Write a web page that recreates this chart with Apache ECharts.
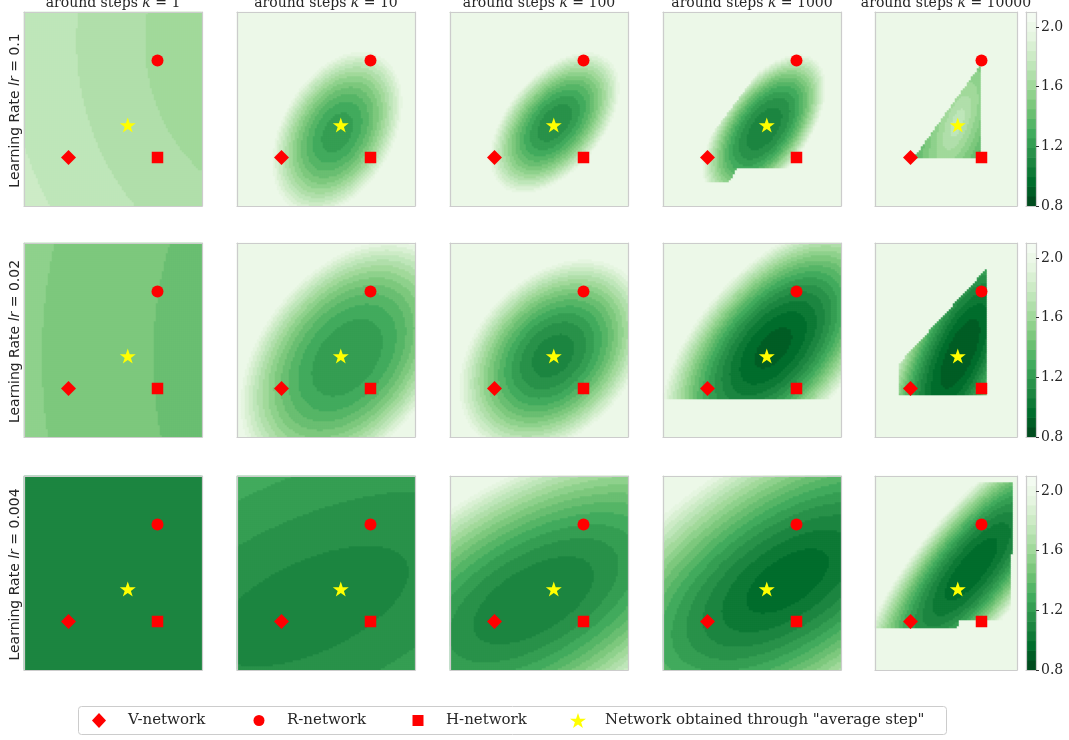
<!DOCTYPE html>
<html><head><meta charset="utf-8">
<script src="https://cdn.jsdelivr.net/npm/echarts@6/dist/echarts.min.js"></script>
<style>html,body{margin:0;padding:0;background:#fff}#c{width:1069px;height:740px}</style>
</head><body><div id="c"></div>
<script>
// ---------------- data ----------------
const stepLabels = ['1', '10', '100', '1000', '10000'];          // column titles: around steps k = ...
const rateLabels = ['0.1', '0.02', '0.004'];                      // row labels: Learning Rate lr = ...
const cbarTicks = [0.8, 1.2, 1.6, 2.0];                           // colour-bar tick labels
const levelMin = 0.8, levelMax = 2.1, levelCount = 20;            // contour levels
const plateauLoss = 2.0;                                          // value of the flat light background

// marker positions (panel coordinates, 0..1)
const vNetwork = [0.25, 0.25];
const rNetwork = [0.75, 0.75];
const hNetwork = [0.75, 0.25];
const avgNetwork = [0.583, 0.417];

// estimated loss surface of every panel (rows: lr, columns: k)
const centerX = [
  [1.55, 0.565, 0.59, 0.57, 0.58],
  [2.644, 0.62, 0.58, 0.62, 0.60],
  [0.50, 0.42, 0.47, 0.70, 0.68]
];
const centerY = [
  [0.85, 0.38, 0.43, 0.40, 0.43],
  [0.41, 0.41, 0.42, 0.46, 0.43],
  [0.50, 0.33, 0.36, 0.46, 0.52]
];
const tiltDeg = [
  [0, 55, 45, 50, 60],
  [0, 45, 40, 45, 55],
  [0, 22, 27, 30, 40]
];
const axisA = [
  [1, 0.47, 0.45, 0.46, 0.22],
  [1, 0.72, 0.60, 0.80, 0.60],
  [1, 0.58, 0.37, 0.26, 1.00]
];
const axisB = [
  [1, 0.31, 0.26, 0.24, 0.10],
  [1, 0.47, 0.42, 0.42, 0.25],
  [1, 0.24, 0.17, 0.12, 0.33]
];
const baseLoss = [
  [1.498, 1.21, 1.13, 1.08, 1.78],
  [1.2506, 1.20, 1.08, 0.90, 0.87],
  [1.09, 1.062, 1.06, 0.94, 0.94]
];
const lossSlope = [
  [0.169, 0.79, 0.87, 0.92, -0.19],
  [0.104, 0.80, 0.92, 1.10, 0.49],
  [0, 0.063, 0.065, 0.055, 1.0]
];
const lossPower = [
  [1, 2, 2, 2.4, 1],
  [1, 2.4, 2, 2, 2],
  [1, 1.1, 2, 1.7, 2]
];
// regions outside which the surface is flat (light background)
const clipRegions = [
  [null, null, null,
    [[0.2, 0.28], [0.2, 0.12], [0.37, 0.12], [0.42, 0.2], [1.0, 0.2], [1.0, 1.0], [0.79, 1.0]],
    [[0.27, 0.245], [0.745, 0.245], [0.745, 0.73]]],
  [null, null, null,
    [[0.0, 0.2], [1.0, 0.2], [1.0, 1.0], [0.0, 1.0]],
    [[0.17, 0.22], [0.795, 0.22], [0.795, 0.875], [0.17, 0.38]]],
  [null, null, null, null,
    [[0.0, 0.215], [0.58, 0.215], [0.6, 0.26], [0.96, 0.26], [0.97, 0.97], [0.0, 0.97]]]
];
const legendNames = ['V-network', 'R-network', 'H-network', 'Network obtained through "average step"'];

// ---------------- layout / style ----------------
const colLeft = [24, 237, 450, 663, 875];
const colWidth = [178, 178, 178, 178, 142];
const rowTop = [12, 243, 476];
const rowHeight = 194;
const cellPx = 2;
const cbarLeft = 1026, cbarWidth = 10;
const frameColor = '#cccccc';
const textColor = '#262626';
const starPath = 'path://M50,0L61.8,35.1L98.9,35.1L69.1,56.8L80.2,91.9L50,70.2L19.8,91.9L30.9,56.8L1.1,35.1L38.2,35.1Z';

const greensAnchors = ['#f7fcf5', '#e5f5e0', '#c7e9c0', '#a1d99b', '#74c476', '#41ab5d', '#238b45', '#006d2c', '#00441b'];
function hex2rgb(h) { return [1, 3, 5].map(i => parseInt(h.substr(i, 2), 16)); }
function greens(t) {
  t = Math.max(0, Math.min(1, t));
  const p = t * 8, k = Math.min(7, Math.floor(p)), f = p - k;
  const a = hex2rgb(greensAnchors[k]), b = hex2rgb(greensAnchors[k + 1]);
  const c = a.map((v, i) => Math.round(v + (b[i] - v) * f));
  return 'rgb(' + c.join(',') + ')';
}
const levels = Array.from({ length: levelCount + 1 }, (_, i) => levelMin + (levelMax - levelMin) * i / levelCount);
const bandColors = Array.from({ length: levelCount }, (_, i) => greens(1 - (i + 0.5) / levelCount));

function insidePoly(poly, x, y) {
  let ins = false;
  for (let i = 0, j = poly.length - 1; i < poly.length; j = i++) {
    const xi = poly[i][0], yi = poly[i][1], xj = poly[j][0], yj = poly[j][1];
    if (((yi > y) !== (yj > y)) && (x < (xj - xi) * (y - yi) / (yj - yi) + xi)) ins = !ins;
  }
  return ins;
}
function surface(r, c, x, y) {
  const dx = x - centerX[r][c], dy = y - centerY[r][c];
  const t = tiltDeg[r][c] * Math.PI / 180;
  const u = dx * Math.cos(t) + dy * Math.sin(t);
  const v = -dx * Math.sin(t) + dy * Math.cos(t);
  const rho = Math.sqrt((u / axisA[r][c]) ** 2 + (v / axisB[r][c]) ** 2);
  let f = baseLoss[r][c] + lossSlope[r][c] * Math.pow(rho, lossPower[r][c]);
  const poly = clipRegions[r][c];
  if (poly && !insidePoly(poly, x, y)) f = plateauLoss;
  return Math.min(Math.max(f, levelMin + 0.01), plateauLoss);
}

// ---------------- option ----------------
const grid = [], xAxis = [], yAxis = [], series = [];
const heatIdx = [];
function frameAxis(extra) {
  return Object.assign({
    show: true, z: 10,
    axisLine: { show: true, onZero: false, lineStyle: { color: frameColor, width: 1.2 } },
    axisTick: { show: false }, axisLabel: { show: false }, splitLine: { show: false }
  }, extra);
}
for (let r = 0; r < 3; r++) {
  for (let c = 0; c < 5; c++) {
    const NX = Math.round(colWidth[c] / cellPx), NY = Math.round(rowHeight / cellPx);
    const g = grid.length;
    grid.push({ left: colLeft[c], top: rowTop[r], width: colWidth[c], height: rowHeight, outerBoundsMode: 'none' });
    const xc = xAxis.length;
    xAxis.push(frameAxis({ type: 'category', data: Array.from({ length: NX }, (_, i) => i), gridIndex: g, position: 'top', boundaryGap: true }));
    xAxis.push(frameAxis({ type: 'value', min: 0, max: 1, gridIndex: g, position: 'bottom' }));
    const yc = yAxis.length;
    yAxis.push(frameAxis({ type: 'category', data: Array.from({ length: NY }, (_, i) => i), gridIndex: g, position: 'right', boundaryGap: true }));
    yAxis.push(frameAxis({ type: 'value', min: 0, max: 1, gridIndex: g, position: 'left' }));
    const data = [];
    for (let j = 0; j < NY; j++) for (let i = 0; i < NX; i++) {
      data.push([i, j, +surface(r, c, (i + 0.5) / NX, (j + 0.5) / NY).toFixed(4)]);
    }
    heatIdx.push(series.length);
    series.push({ type: 'heatmap', xAxisIndex: xc, yAxisIndex: yc, data, progressive: 0, silent: true,
      itemStyle: { borderWidth: 0 }, emphasis: { disabled: true } });
    const marks = [
      [legendNames[0], vNetwork, 'diamond', 15, '#ff0000'],
      [legendNames[1], rNetwork, 'circle', 12, '#ff0000'],
      [legendNames[2], hNetwork, 'rect', 11.5, '#ff0000'],
      [legendNames[3], avgNetwork, starPath, 16, '#ffff00']
    ];
    marks.forEach(m => series.push({ type: 'scatter', name: m[0], xAxisIndex: xc + 1, yAxisIndex: yc + 1,
      data: [m[1]], symbol: m[2], symbolSize: m[3], symbolKeepAspect: true, itemStyle: { color: m[4], opacity: 1 },
      z: 5, silent: true }));
  }
}
// colour bars
const cbarData = levels.slice(0, levelCount).map((lo, i) => [0, lo, levels[i + 1], i]);
for (let r = 0; r < 3; r++) {
  const g = grid.length;
  grid.push({ left: cbarLeft, top: rowTop[r], width: cbarWidth, height: rowHeight, outerBoundsMode: 'none' });
  const xc = xAxis.length;
  xAxis.push(frameAxis({ type: 'value', min: 0, max: 1, gridIndex: g, position: 'bottom' }));
  xAxis.push(frameAxis({ type: 'value', min: 0, max: 1, gridIndex: g, position: 'top' }));
  const yc = yAxis.length;
  yAxis.push(frameAxis({ type: 'value', min: levelMin, max: levelMax, interval: 0.4, gridIndex: g, position: 'right',
    axisTick: { show: true, length: 3, customValues: cbarTicks, lineStyle: { color: '#333' } },
    axisLabel: { show: true, customValues: cbarTicks, margin: 5,
      formatter: v => v.toFixed(1),
      fontFamily: 'DejaVu Serif', fontSize: 14, color: textColor } }));
  yAxis.push(frameAxis({ type: 'value', min: levelMin, max: levelMax, gridIndex: g, position: 'left' }));
  series.push({ type: 'custom', xAxisIndex: xc, yAxisIndex: yc, data: cbarData, silent: true,
    encode: { x: 0, y: [1, 2] },
    renderItem: (params, api) => {
      const a = api.coord([0, api.value(2)]), b = api.coord([1, api.value(1)]);
      return { type: 'rect', shape: { x: a[0], y: a[1] - 0.3, width: b[0] - a[0], height: b[1] - a[1] + 0.6 },
        style: { fill: bandColors[api.value(3)] } };
    } });
}

const graphic = [];
for (let c = 0; c < 5; c++) {
  graphic.push({ type: 'text', x: colLeft[c] + colWidth[c] / 2, y: 3, silent: true,
    style: { text: '{n|around steps }{i|k}{n| = ' + stepLabels[c] + '}', align: 'center', verticalAlign: 'middle',
      rich: { n: { fontFamily: 'DejaVu Serif', fontSize: 14, fill: textColor },
              i: { fontFamily: 'DejaVu Serif', fontStyle: 'italic', fontSize: 14, fill: textColor } } } });
}
for (let r = 0; r < 3; r++) {
  graphic.push({ type: 'text', x: 15, y: rowTop[r] + rowHeight / 2 + 1.5, rotation: Math.PI / 2, silent: true,
    style: { text: '{n|Learning Rate }{i|lr}{n| = ' + rateLabels[r] + '}', align: 'center', verticalAlign: 'middle',
      rich: { n: { fontFamily: 'DejaVu Sans', fontSize: 14, fill: textColor },
              i: { fontFamily: 'DejaVu Sans', fontStyle: 'italic', fontSize: 14, fill: textColor } } } });
}
graphic.push({ type: 'rect', z: 1, silent: true, shape: { x: 78.5, y: 706.5, width: 868, height: 28, r: 3 },
  style: { fill: '#ffffff', stroke: frameColor, lineWidth: 1 } });

const legendSpec = [
  { left: 92, w: 14, h: 15, gap: 17 },
  { left: 253.5, w: 11, h: 11, gap: 17.5 },
  { left: 412.5, w: 11, h: 11, gap: 17.5 },
  { left: 570, w: 16, h: 16, gap: 14 }
];
const legend = legendSpec.map((s, i) => ({
  data: [legendNames[i]], left: s.left, top: 713, padding: 0, itemWidth: s.w, itemHeight: s.h,
  selectedMode: false, z: 6,
  formatter: n => '{g|}{t|' + n + '}',
  textStyle: { rich: { g: { width: s.gap }, t: { fontFamily: 'DejaVu Serif', fontSize: 15, color: textColor, lineHeight: 18 } } }
}));

const chart = echarts.init(document.getElementById('c'), null, { renderer: 'canvas' });
chart.setOption({
  animation: false,
  backgroundColor: '#ffffff',
  grid, xAxis, yAxis, series, graphic, legend,
  visualMap: { type: 'piecewise', show: false, seriesIndex: heatIdx, dimension: 2,
    pieces: bandColors.map((col, i) => ({ gte: levels[i] - 1e-9, lt: levels[i + 1] - 1e-9, color: col })) }
});
</script></body></html>
